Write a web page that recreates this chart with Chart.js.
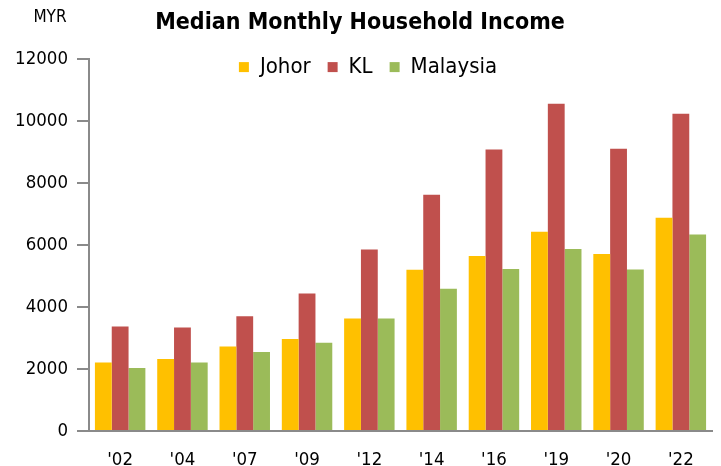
<!DOCTYPE html>
<html><head><meta charset="utf-8">
<script src="https://cdn.jsdelivr.net/npm/chart.js@4"></script>
<style>html,body{margin:0;padding:0;background:#fff}#wrap{width:721px;height:466px;position:relative}</style>
</head><body><div id="wrap"><canvas id="c"></canvas></div>
<script>
const titleText = 'Median Monthly Household Income';
const unitLabel = 'MYR';
const categories = ["'02", "'04", "'07", "'09", "'12", "'14", "'16", "'19", "'20", "'22"];
const seriesNames = ['Johor', 'KL', 'Malaysia'];
const johor = [2210, 2320, 2730, 2970, 3630, 5200, 5650, 6430, 5710, 6880];
const kl = [3370, 3340, 3700, 4440, 5860, 7620, 9080, 10560, 9110, 10240];
const malaysia = [2030, 2210, 2550, 2850, 3630, 4590, 5230, 5870, 5210, 6340];
const yTicks = [0, 2000, 4000, 6000, 8000, 10000, 12000];
const yTickLabels = ['0', '2000', '4000', '6000', '8000', '10000', '12000'];

const FONT = "'DejaVu Sans Condensed', 'DejaVu Sans', sans-serif";
const colors = ['#FFC000', '#C0504D', '#9BBB59'];
const axisColor = '#8a8a8a';

const unitPlugin = {
  id: 'unitLabel',
  afterLayout(chart) {
    // let the legend draw over the top of the plot area (no clipping), nudged right
    const l = chart.legend;
    if (l) { l.bottom = l.top + 60; l.height = 60; l.left = l.left + 16; l.width = l.right - l.left; }
  },
  afterDraw(chart) {
    const ctx = chart.ctx;
    ctx.save();
    ctx.font = "17px " + FONT;
    ctx.fillStyle = '#000';
    ctx.textAlign = 'center';
    ctx.textBaseline = 'middle';
    ctx.fillText(unitLabel, 50, 18);
    ctx.restore();
  }
};

new Chart(document.getElementById('c'), {
  type: 'bar',
  data: {
    labels: categories,
    datasets: [johor, kl, malaysia].map((d, i) => ({
      label: seriesNames[i],
      data: d,
      backgroundColor: colors[i],
      borderWidth: 0,
      categoryPercentage: 0.81,
      barPercentage: 1.0
    }))
  },
  options: {
    responsive: true,
    maintainAspectRatio: false,
    animation: false,
    layout: { padding: { left: 8, right: 9, top: 0, bottom: 0 } },
    plugins: {
      title: {
        display: true,
        text: titleText,
        color: '#000',
        font: { family: FONT, size: 23, weight: 'bold' },
        padding: { top: 9.5, bottom: 2 }
      },
      legend: {
        display: true,
        position: 'top',
        maxHeight: 20,
        labels: {
          color: '#000',
          font: { family: FONT, size: 22 },
          boxWidth: 10,
          boxHeight: 10,
          padding: 17
        }
      },
      tooltip: { enabled: false }
    },
    scales: {
      x: {
        grid: { display: false },
        border: { display: true, color: axisColor, width: 2 },
        ticks: { color: '#000', font: { family: FONT, size: 18.5 }, padding: 10 },
        afterFit(scale) { scale.height = 35; }
      },
      y: {
        min: 0,
        max: 12000,
        afterBuildTicks(scale) { scale.ticks = yTicks.map(v => ({ value: v })); },
        grid: { display: true, drawOnChartArea: false, drawTicks: true, tickLength: 12, color: axisColor, lineWidth: 2 },
        border: { display: true, color: axisColor, width: 2 },
        ticks: {
          color: '#000', font: { family: FONT, size: 18.5 }, padding: 9,
          callback: (v) => yTickLabels[yTicks.indexOf(v)]
        },
        afterFit(scale) { scale.width = 81; }
      }
    }
  },
  plugins: [unitPlugin]
});
</script>
</body></html>
